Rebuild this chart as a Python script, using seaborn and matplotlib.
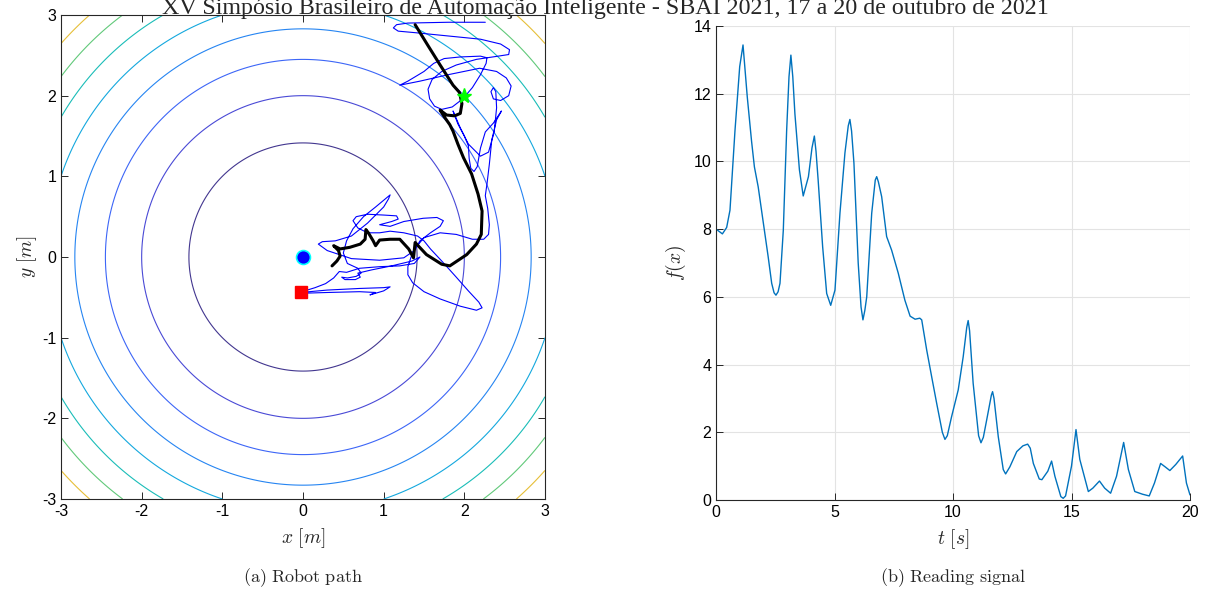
import numpy as np
import pandas as pd
import matplotlib
matplotlib.use("Agg")
import matplotlib.pyplot as plt
import seaborn as sns

# ---------------- data ----------------
contour_levels = [2, 4, 6, 8, 10, 12, 14, 16]
contour_colors = [(0.26, 0.21, 0.56), (0.29, 0.29, 0.84), (0.24, 0.40, 0.97), (0.15, 0.52, 0.95),
                  (0.08, 0.66, 0.87), (0.10, 0.74, 0.72), (0.38, 0.79, 0.48), (0.90, 0.75, 0.22)]

robot_x = [1.39, 1.55, 1.70, 1.86, 1.94, 1.97, 1.95, 1.88, 1.78, 1.70, 1.75, 1.82, 1.86, 1.92,
           1.99, 2.09, 2.17, 2.22, 2.21, 2.15, 2.03, 1.82, 1.72, 1.53, 1.39, 1.37, 1.31, 1.20,
           1.08, 0.95, 0.90, 0.87, 0.81, 0.78, 0.77, 0.71, 0.58, 0.46, 0.38, 0.44, 0.46, 0.42, 0.36]
robot_y = [2.88, 2.62, 2.38, 2.13, 2.04, 1.90, 1.78, 1.75, 1.76, 1.82, 1.74, 1.64, 1.56, 1.40,
           1.23, 1.03, 0.78, 0.57, 0.28, 0.16, 0.03, -0.11, -0.09, 0.03, 0.18, -0.01, 0.10, 0.22,
           0.22, 0.21, 0.14, 0.20, 0.30, 0.34, 0.22, 0.16, 0.12, 0.10, 0.14, 0.08, 0.01, -0.05, -0.11]

swarm_x = [2.26, 1.80, 1.30, 1.16, 1.12, 1.18, 1.40, 1.80, 2.20, 2.45, 2.56, 2.55, 2.42, 2.15,
           1.90, 1.72, 1.60, 1.55, 1.57, 1.63, 1.72, 1.85, 1.98, 2.10, 2.20, 2.27, 2.28, 2.20,
           1.95, 1.75, 1.62, 1.50, 1.30, 1.20, 1.45, 1.80, 2.19, 2.40, 2.52, 2.58, 2.55, 2.45,
           2.36, 2.33, 2.36, 2.39, 2.40, 2.37, 2.30, 2.20, 2.05, 1.95, 1.86, 1.92, 2.00, 2.05,
           2.06, 2.08, 2.12, 2.16, 2.20, 2.26, 2.36, 2.46, 2.40, 2.34, 2.31, 2.28, 2.26, 2.29,
           2.31, 2.30, 2.24, 2.10, 1.90, 1.70, 1.50, 1.40, 1.34, 1.30, 1.30, 1.36, 1.50, 1.70,
           1.95, 2.15, 2.22, 2.18, 2.05, 1.90, 1.72, 1.58, 1.50, 1.42, 1.25, 1.08, 0.95, 0.80,
           0.68, 0.62, 0.66, 0.80, 1.00, 1.16, 1.18, 1.10, 0.95, 1.08, 1.25, 1.49, 1.66, 1.74,
           1.70, 1.58, 1.45, 1.38, 1.25, 0.95, 0.60, 0.30, 0.19, 0.24, 0.40, 0.60, 0.80, 1.00,
           1.06, 1.08, 1.02, 0.90, 0.75, 0.62, 0.54, 0.50, 0.55, 0.68, 0.72, 0.66, 0.55, 0.48,
           0.52, 0.65, 0.71, 0.68, 0.85, 1.10, 1.35, 1.45, 1.38, 1.20, 0.95, 0.70, 0.54, 0.45,
           0.38, 0.28, 0.15, 0.02, -0.03, 0.30, 0.70, 1.00, 1.08, 1.00, 0.83, 0.90, 0.70, 0.30, -0.03]
swarm_y = [2.91, 2.91, 2.90, 2.88, 2.84, 2.80, 2.78, 2.74, 2.70, 2.64, 2.57, 2.51, 2.49, 2.45,
           2.38, 2.30, 2.20, 2.08, 1.96, 1.87, 1.83, 1.86, 1.96, 2.10, 2.26, 2.40, 2.47, 2.49,
           2.48, 2.46, 2.40, 2.30, 2.18, 2.13, 2.18, 2.26, 2.34, 2.30, 2.22, 2.12, 2.00, 1.94,
           1.96, 2.05, 2.10, 2.05, 1.85, 1.55, 1.30, 1.25, 1.40, 1.60, 1.81, 1.65, 1.50, 1.38,
           1.22, 1.10, 1.06, 1.12, 1.35, 1.55, 1.66, 1.81, 1.70, 1.45, 1.15, 0.90, 0.76, 0.60,
           0.40, 0.28, 0.22, 0.22, 0.28, 0.30, 0.24, 0.12, 0.00, -0.12, -0.22, -0.32, -0.43, -0.52,
           -0.61, -0.66, -0.63, -0.56, -0.42, -0.25, -0.05, 0.10, 0.20, 0.26, 0.30, 0.32, 0.30, 0.30,
           0.36, 0.45, 0.50, 0.53, 0.52, 0.51, 0.47, 0.44, 0.40, 0.38, 0.44, 0.48, 0.49, 0.45,
           0.38, 0.30, 0.20, 0.08, -0.01, -0.04, -0.02, 0.08, 0.16, 0.19, 0.20, 0.26, 0.42, 0.62,
           0.72, 0.77, 0.72, 0.62, 0.50, 0.35, 0.20, 0.05, -0.08, -0.14, -0.20, -0.24, -0.26, -0.25,
           -0.28, -0.28, -0.25, -0.20, -0.16, -0.11, -0.05, 0.00, -0.08, -0.11, -0.12, -0.14, -0.19, -0.18,
           -0.26, -0.33, -0.38, -0.42, -0.44, -0.41, -0.39, -0.38, -0.37, -0.42, -0.47, -0.44, -0.43, -0.44, -0.45]

source_xy = (0.0, 0.0)
start_xy = (2.0, 2.0)
end_xy = (-0.03, -0.44)

t_vals = [0, 0.1, 0.27, 0.45, 0.59, 0.8, 1.0, 1.14, 1.32, 1.5, 1.62, 1.78, 2.0, 2.2, 2.35, 2.45,
          2.53, 2.62, 2.7, 2.84, 2.98, 3.08, 3.16, 3.24, 3.33, 3.52, 3.68, 3.9, 4.05, 4.15, 4.22,
          4.31, 4.5, 4.67, 4.84, 5.02, 5.23, 5.44, 5.58, 5.65, 5.72, 5.82, 6.0, 6.12, 6.2, 6.28,
          6.36, 6.57, 6.72, 6.78, 6.85, 6.99, 7.2, 7.41, 7.69, 7.97, 8.19, 8.4, 8.6, 8.68, 8.89,
          9.1, 9.31, 9.55, 9.66, 9.76, 9.94, 10.22, 10.43, 10.58, 10.64, 10.7, 10.85, 11.08, 11.18,
          11.28, 11.42, 11.62, 11.67, 11.73, 11.91, 12.12, 12.22, 12.4, 12.69, 12.95, 13.15, 13.26,
          13.39, 13.64, 13.75, 14.0, 14.16, 14.3, 14.55, 14.65, 14.75, 15.0, 15.19, 15.35, 15.71,
          15.9, 16.18, 16.4, 16.65, 16.9, 17.2, 17.4, 17.67, 18.0, 18.28, 18.5, 18.76, 18.95, 19.15,
          19.4, 19.69, 19.85, 20.0]
f_vals = [8.0, 7.95, 7.86, 8.05, 8.56, 10.9, 12.8, 13.44, 11.9, 10.6, 9.84, 9.25, 8.17, 7.19, 6.4, 6.12,
          6.05, 6.15, 6.4, 7.97, 10.9, 12.5, 13.14, 12.5, 11.4, 9.75, 8.98, 9.55, 10.4, 10.75, 10.3,
          9.45, 7.48, 6.1, 5.75, 6.2, 8.47, 10.25, 11.05, 11.24, 10.9, 9.95, 7.0, 5.7, 5.32, 5.6,
          6.0, 8.47, 9.45, 9.55, 9.4, 8.96, 7.78, 7.38, 6.7, 5.9, 5.43, 5.34, 5.37, 5.32, 4.43,
          3.64, 2.86, 2.0, 1.79, 1.9, 2.46, 3.25, 4.23, 5.1, 5.3, 5.0, 3.45, 1.9, 1.69,
          1.85, 2.36, 3.1, 3.2, 3.0, 1.87, 0.9, 0.77, 0.98, 1.43, 1.6, 1.65, 1.53,
          1.08, 0.62, 0.6, 0.85, 1.15, 0.7, 0.1, 0.05, 0.12, 1.0, 2.08, 1.2, 0.25,
          0.35, 0.56, 0.35, 0.2, 0.7, 1.7, 0.9, 0.25, 0.17, 0.12, 0.5, 1.08, 0.98, 0.87,
          1.05, 1.3, 0.5, 0.15]

xy_ticks = [-3, -2, -1, 0, 1, 2, 3]
t_ticks = [0, 5, 10, 15, 20]
f_ticks = [0, 2, 4, 6, 8, 10, 12, 14]

header = "XV Simpósio Brasileiro de Automação Inteligente - SBAI 2021, 17 a 20 de outubro de 2021"

# ---------------- style ----------------
sns.set_style("ticks")
plt.rcParams['font.family'] = ['Liberation Sans', 'DejaVu Sans']
plt.rcParams['mathtext.fontset'] = 'cm'
plt.rcParams['xtick.direction'] = 'in'
plt.rcParams['ytick.direction'] = 'in'

fig = plt.figure(figsize=(12.08, 5.96), dpi=100)
axL = fig.add_axes([61/1208, 97/596, 484/1208, 484/596])
axR = fig.add_axes([716/1208, 96/596, 474/1208, 474/596])

tick_fs = 11.5
lab_fs = 14
edge = '#262626'

# ---------------- left: robot path ----------------
g = np.linspace(-3, 3, 401)
GX, GY = np.meshgrid(g, g)
F = GX**2 + GY**2
axL.contour(GX, GY, F, levels=contour_levels, colors=contour_colors, linewidths=0.8)

df_swarm = pd.DataFrame({"x": swarm_x, "y": swarm_y})
df_robot = pd.DataFrame({"x": robot_x, "y": robot_y})
sns.lineplot(data=df_swarm, x="x", y="y", sort=False, estimator=None, ax=axL,
             color=(0, 0, 1), linewidth=0.8)
sns.lineplot(data=df_robot, x="x", y="y", sort=False, estimator=None, ax=axL,
             color='black', linewidth=2.2)
axL.plot([source_xy[0]], [source_xy[1]], 'o', ms=10, mfc=(0, 0, 1), mec=(0, 1, 1), mew=1.2)
axL.plot([end_xy[0]], [end_xy[1]], 's', ms=8, mfc=(1, 0, 0), mec=(1, 0, 0))
axL.plot([start_xy[0]], [start_xy[1]], '*', ms=11, mfc=(0, 1, 0), mec=(0, 1, 0))

axL.set_xlim(-3, 3)
axL.set_ylim(-3, 3)
axL.set_xticks(xy_ticks)
axL.set_yticks(xy_ticks)
axL.set_xticklabels([str(v) for v in xy_ticks], fontsize=tick_fs)
axL.set_yticklabels([str(v) for v in xy_ticks], fontsize=tick_fs)
axL.set_xlabel(r'$x\ [m]$', fontsize=lab_fs, labelpad=5)
axL.set_ylabel(r'$y\ [m]$', fontsize=lab_fs, labelpad=2)
axL.tick_params(top=True, right=True, length=5, width=0.7, colors=edge, labelcolor='black')
for s in axL.spines.values():
    s.set_color(edge)
    s.set_linewidth(0.8)

# ---------------- right: reading signal ----------------
df_sig = pd.DataFrame({"t": t_vals, "f": f_vals})
sns.lineplot(data=df_sig, x="t", y="f", sort=False, estimator=None, ax=axR,
             color=(0, 0.447, 0.741), linewidth=1.0)
axR.set_xlim(0, 20)
axR.set_ylim(0, 14)
axR.set_xticks(t_ticks)
axR.set_yticks(f_ticks)
axR.set_xticklabels([str(v) for v in t_ticks], fontsize=tick_fs)
axR.set_yticklabels([str(v) for v in f_ticks], fontsize=tick_fs)
axR.grid(True, color='#e3e3e3', linewidth=0.8)
axR.set_axisbelow(True)
for s in ['top', 'right']:
    axR.spines[s].set_visible(False)
for s in ['left', 'bottom']:
    axR.spines[s].set_color(edge)
    axR.spines[s].set_linewidth(0.8)
axR.set_xlabel(r'$t\ [s]$', fontsize=lab_fs, labelpad=5)
axR.set_ylabel(r'$f(x)$', fontsize=lab_fs, labelpad=4)
axR.tick_params(length=5, width=0.7, colors=edge, labelcolor='black')

# ---------------- captions ----------------
fig.text(303/1208, 1 - 578/596, r'$\mathrm{(a)\ Robot\ path}$', ha='center', va='center', fontsize=13)
fig.text(953/1208, 1 - 578/596, r'$\mathrm{(b)\ Reading\ signal}$', ha='center', va='center', fontsize=13)
fig.text(605/1208, 1 - 14/596, header, ha='center', va='baseline', fontsize=17.3,
         family=['Liberation Serif', 'DejaVu Serif'])

fig.savefig("out.png", dpi=100)
